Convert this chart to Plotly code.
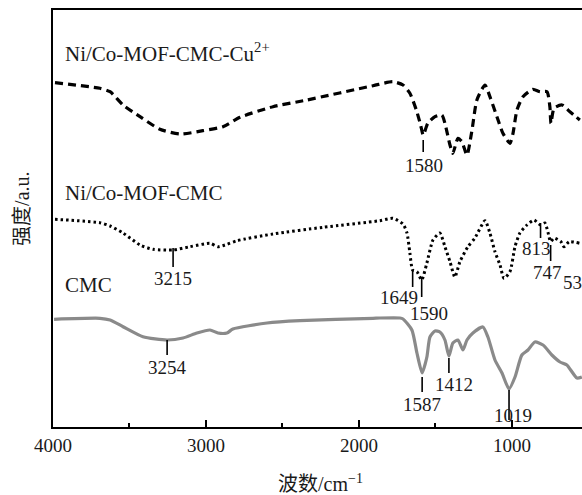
import plotly.graph_objects as go

# FTIR spectra (wavenumber in cm^-1, intensity in arbitrary units, offset per trace)
cmc_wn = [3993, 3693, 3627, 3542, 3412, 3254, 3150, 3059, 2974, 2922, 2863, 2824,
          2601, 2386, 1908, 1863, 1732, 1712, 1654, 1621, 1587, 1556, 1536, 1503,
          1471, 1438, 1412, 1386, 1353, 1320, 1294, 1255, 1190, 1157, 1111, 1065,
          1019, 980, 935, 895, 850, 797, 739, 686, 641, 575, 543]
cmc_int = [107.7, 108.7, 107, 100.3, 90.3, 87, 89, 94, 97, 94, 94, 98,
           104, 106.3, 108.7, 109, 109, 108, 97, 74, 54, 70, 90, 96,
           95, 87, 71, 84, 87, 77, 87, 94, 100, 90, 67, 54,
           38, 50, 72, 77, 85, 82, 72, 65, 62, 49, 50]

mof_wn = [3987, 3693, 3627, 3542, 3431, 3346, 3215, 3105, 2974, 2922, 2863, 2797,
          2562, 2235, 1863, 1778, 1712, 1686, 1667, 1649, 1621, 1590, 1556, 1516,
          1471, 1438, 1405, 1373, 1340, 1288, 1242, 1176, 1144, 1111, 1078, 1052,
          1013, 980, 948, 902, 856, 813, 785, 765, 747, 725, 680, 660, 625, 556]
mof_int = [207.7, 204.3, 201, 194, 182, 177.7, 177, 180.3, 183.7, 180.3, 182.7, 186.3,
           193, 199.7, 206.3, 208.7, 203, 194, 174, 157, 155.3, 147, 164, 187,
           194, 180.3, 165.3, 150, 165.3, 180.3, 189, 206.3, 194, 175.3, 162, 148.7,
           155.3, 180.3, 194, 202, 207, 202, 204, 195, 185.3, 189, 185.3, 180.3, 185.3, 183.7]

cu_wn = [3987, 3693, 3627, 3542, 3431, 3301, 3170, 3020, 2889, 2778, 2562, 2340,
         1908, 1778, 1712, 1667, 1625, 1597, 1580, 1550, 1503, 1458, 1438, 1405,
         1386, 1353, 1327, 1294, 1261, 1229, 1176, 1144, 1098, 1059, 1013, 993,
         967, 928, 863, 817, 771, 752, 745, 725, 673, 621, 556]
cu_int = [344.3, 338.7, 335.3, 322, 310.3, 297.7, 293, 296.3, 300.3, 309.7, 320.3, 327,
          341.3, 345.3, 342, 333.7, 317, 302, 292, 303.7, 310.3, 312, 303.7, 282,
          273.7, 288.7, 285.3, 272, 297, 327, 342, 330.3, 310.3, 293.7, 283.7, 293.7,
          317, 330.3, 337.7, 335.3, 335.3, 320.3, 303.7, 318.7, 322, 315.3, 307]

series_names = ["CMC", "Ni/Co-MOF-CMC", "Ni/Co-MOF-CMC-Cu<sup>2+</sup>"]

# Marked bands: wavenumber, tick top, tick bottom, label centre height, label x shift (px)
band_wn = [1580, 3215, 1649, 1590, 813, 747, 534, 3254, 1412, 1587, 1019]
band_tick_top = [287, 179, 157, 149, 204, 182, None, 87, 69, 50, 37]
band_tick_bot = [275, 160, 140, 130, 189, 166, None, 72, 54, 35, 7]
band_text_y = [262, 149, 130, 114, 179, 155, 145, 60, 43, 23, 12]
band_text_dx = [1, 0, -14, 7, -4, -3, -6, 0, 5, 0, 4]

x_title = "波数/cm<sup>−1</sup>"
y_title = "强度/a.u."

serif = "Liberation Serif, Times New Roman, Noto Sans CJK SC, serif"
x_lo, x_hi = 4000, 542

fig = go.Figure()
fig.add_trace(go.Scatter(x=cmc_wn, y=cmc_int, mode="lines", name=series_names[0],
                         line=dict(color="#8a8a8a", width=3.2, shape="spline", smoothing=0.6)))
fig.add_trace(go.Scatter(x=mof_wn, y=mof_int, mode="lines", name=series_names[1],
                         line=dict(color="black", width=3, dash="2.5px,3px",
                                   shape="spline", smoothing=0.6)))
fig.add_trace(go.Scatter(x=cu_wn, y=cu_int, mode="lines", name=series_names[2],
                         line=dict(color="black", width=3.2, dash="8px,5px",
                                   shape="spline", smoothing=0.6)))

shapes = []
annotations = []
for wn, t0, t1, ty, dx in zip(band_wn, band_tick_top, band_tick_bot, band_text_y, band_text_dx):
    if t0 is not None:
        shapes.append(dict(type="line", xref="x", yref="y", x0=wn, x1=wn, y0=t0, y1=t1,
                           line=dict(color="black", width=1.6)))
    label = dict(y=ty, yref="y", text=str(wn), showarrow=False,
                 xanchor="center", yanchor="middle",
                 font=dict(family=serif, size=19, color="#1a1a1a"))
    if wn < x_hi:
        # band sits just past the right edge of the axis: place its label in paper space
        label.update(x=1 + (x_hi - wn) / (x_lo - x_hi), xref="paper", xshift=dx)
    else:
        label.update(x=wn, xref="x", xshift=dx)
    annotations.append(label)

# Trace labels
for name, yp in zip(series_names[::-1], [0.897, 0.561, 0.341]):
    annotations.append(dict(x=0.019, y=yp, xref="paper", yref="paper", text=name,
                            showarrow=False, xanchor="left", yanchor="middle",
                            font=dict(family=serif, size=21, color="#1a1a1a")))

# Axis titles
annotations.append(dict(x=0.505, y=-0.135, xref="paper", yref="paper", text=x_title,
                        showarrow=False, xanchor="center", yanchor="middle",
                        font=dict(family=serif, size=20, color="#1a1a1a")))
annotations.append(dict(x=-0.0586, y=0.523, xref="paper", yref="paper", text=y_title,
                        showarrow=False, xanchor="center", yanchor="middle", textangle=-90,
                        font=dict(family=serif, size=20, color="#1a1a1a")))

fig.update_layout(
    width=582, height=495,
    margin=dict(l=53, r=0, t=10, b=68),
    paper_bgcolor="white", plot_bgcolor="white",
    showlegend=False,
    shapes=shapes, annotations=annotations,
    xaxis=dict(range=[x_lo, x_hi], tickvals=[4000, 3000, 2000, 1000],
               ticktext=["4000", "3000", "2000", "1000"],
               ticks="inside", ticklen=7, tickwidth=2, tickcolor="black",
               minor=dict(tickvals=[3500, 2500, 1500], ticks="inside", ticklen=4,
                          tickwidth=2, tickcolor="black"),
               showline=True, linewidth=2, linecolor="black", mirror=True,
               showgrid=False, zeroline=False,
               tickfont=dict(family=serif, size=19, color="#1a1a1a")),
    yaxis=dict(range=[0, 417], showticklabels=False, ticks="",
               showline=True, linewidth=2, linecolor="black",
               showgrid=False, zeroline=False),
)

fig.write_html("out.html")
